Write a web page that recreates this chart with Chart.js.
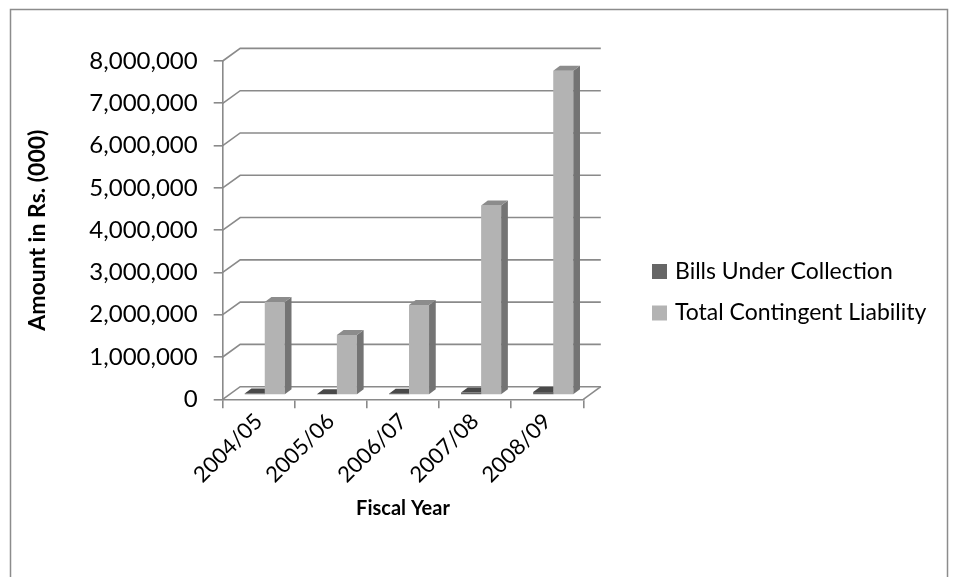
<!DOCTYPE html>
<html><head><meta charset="utf-8">
<script src="https://cdn.jsdelivr.net/npm/chart.js"></script>
<style>html,body{margin:0;padding:0;background:#fff;}canvas{display:block}</style>
</head><body>
<canvas id="c" width="958" height="577"></canvas>
<script>
// ---- data ----
const categories = ['2004/05', '2005/06', '2006/07', '2007/08', '2008/09'];
const billsUnderCollection = [35000, 20000, 30000, 60000, 70000];
const totalContingentLiability = [2200000, 1420000, 2130000, 4480000, 7670000];
const seriesNames = ['Bills Under Collection', 'Total Contingent Liability'];
const yTickValues = [0, 1000000, 2000000, 3000000, 4000000, 5000000, 6000000, 7000000, 8000000];
const xTitle = 'Fiscal Year';
const yTitle = 'Amount in Rs. (000)';

// ---- style ----
const FONT = 'Lato';
const GRID = '#8a8a8a';
const LW = 1.6;
const PAD_L = 20, PAD_T = 61, PAD_R = 374.7, PAD_B = 52;
const AXIS_X = 222.7, AXIS_BOTTOM = 399.3;
const DX = 17.5, DY = -12.6;   // wall depth
const FDX = 6, FDY = -4.3;     // bar front plane offset
const BDX = 6.7, BDY = -5;     // bar depth
const faces = [
  {front: '#666666', side: '#3c3c3c', top: '#494949'},
  {front: '#b3b3b3', side: '#747474', top: '#8c8c8c'}
];

function drawFaces(chart, di) {
  const ctx = chart.ctx, meta = chart.getDatasetMeta(di), f = faces[di];
  meta.data.forEach(el => {
    const {x, y, base, width} = el.getProps(['x', 'y', 'base', 'width'], true);
    const l = x - width / 2, r = x + width / 2;
    ctx.fillStyle = f.side;
    ctx.beginPath(); ctx.moveTo(r, y); ctx.lineTo(r + BDX, y + BDY); ctx.lineTo(r + BDX, base + BDY); ctx.lineTo(r, base); ctx.closePath(); ctx.fill();
    ctx.fillStyle = f.top;
    ctx.beginPath(); ctx.moveTo(l, y); ctx.lineTo(l + BDX, y + BDY); ctx.lineTo(r + BDX, y + BDY); ctx.lineTo(r, y); ctx.closePath(); ctx.fill();
  });
}

const threeD = {
  id: 'threeD',
  beforeDraw(chart) {
    const ctx = chart.ctx;
    ctx.save();
    ctx.fillStyle = '#fff'; ctx.fillRect(0, 0, chart.width, chart.height);
    ctx.strokeStyle = '#8c8c8c'; ctx.lineWidth = 1.5;
    ctx.strokeRect(10.5, 9.5, 937, 640);
    ctx.restore();
  },
  beforeDatasetsDraw(chart) {
    const {ctx, chartArea: a, scales: {y}} = chart;
    ctx.save();
    ctx.strokeStyle = GRID; ctx.lineWidth = LW; ctx.lineJoin = 'miter';
    y.ticks.forEach(t => {
      const py = y.getPixelForValue(t.value);
      ctx.beginPath(); ctx.moveTo(a.left, py); ctx.lineTo(a.left + DX, py + DY); ctx.lineTo(a.right + DX, py + DY); ctx.stroke();
    });
    const b = y.getPixelForValue(0);
    ctx.beginPath(); ctx.moveTo(a.right, b); ctx.lineTo(a.right + DX, b + DY); ctx.stroke();
    ctx.restore();
    ctx.save();
    ctx.translate(FDX, FDY);
  },
  beforeDatasetDraw(chart, args) { if (args.index === 1) drawFaces(chart, 0); },
  afterDatasetDraw(chart, args) { if (args.index === 1) drawFaces(chart, 1); },
  afterDatasetsDraw(chart) { chart.ctx.restore(); },
  afterDraw(chart) {
    const ctx = chart.ctx;
    const ys = [271.5, 313];
    ctx.save();
    ctx.font = '23px ' + FONT;
    ctx.textBaseline = 'middle';
    ctx.textAlign = 'left';
    chart.data.datasets.forEach((ds, i) => {
      ctx.fillStyle = ds.backgroundColor;
      ctx.fillRect(652, ys[i] - 7.5, 15, 15);
      ctx.fillStyle = '#000';
      ctx.fillText(ds.label, 675, ys[i]);
    });
    ctx.restore();
  }
};

new Chart(document.getElementById('c'), {
  type: 'bar',
  data: {
    labels: categories,
    datasets: [
      {label: seriesNames[0], data: billsUnderCollection, backgroundColor: faces[0].front},
      {label: seriesNames[1], data: totalContingentLiability, backgroundColor: faces[1].front}
    ]
  },
  options: {
    responsive: false,
    animation: false,
    devicePixelRatio: 1,
    categoryPercentage: 0.556,
    barPercentage: 1,
    layout: {padding: {left: PAD_L, top: PAD_T, right: PAD_R, bottom: PAD_B}},
    plugins: {legend: {display: false}, tooltip: {enabled: false}},
    scales: {
      x: {
        offset: true,
        ticks: {minRotation: 45, maxRotation: 45, color: '#000', font: {family: FONT, size: 22}, padding: 0},
        grid: {offset: true, drawOnChartArea: false, tickLength: 9, color: GRID, lineWidth: LW},
        border: {color: GRID, width: LW},
        title: {display: true, text: xTitle, color: '#000', font: {family: FONT, size: 20, weight: 'bold'}, padding: {top: 4, bottom: 4}},
        afterFit: s => { s.height = 577 - PAD_B - AXIS_BOTTOM; }
      },
      y: {
        min: 0, max: 8000000,
        afterBuildTicks: s => { s.ticks = yTickValues.map(v => ({value: v})); },
        ticks: {padding: 16, color: '#000', font: {family: FONT, size: 24}, callback: v => Number(v).toLocaleString('en-US')},
        grid: {drawOnChartArea: false, tickLength: 9, color: GRID, lineWidth: LW},
        border: {display: true, color: GRID, width: LW},
        title: {display: true, text: yTitle, color: '#000', font: {family: FONT, size: 23, weight: 'bold'}, padding: {top: 4, bottom: 4}},
        afterFit: s => { s.width = AXIS_X - PAD_L; }
      }
    }
  },
  plugins: [threeD]
});
</script>
</body></html>
